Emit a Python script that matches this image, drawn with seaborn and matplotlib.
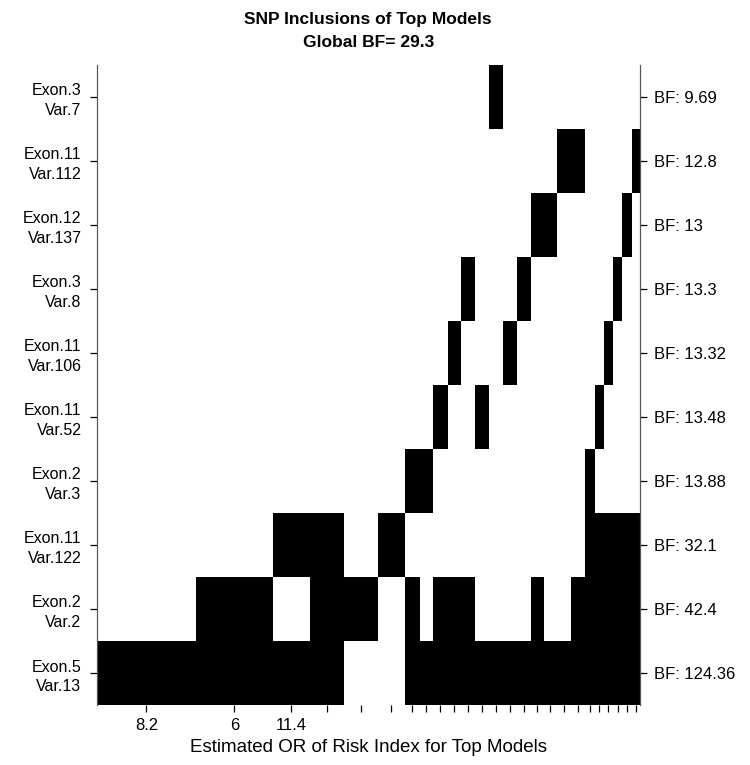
import matplotlib

matplotlib.use("Agg")
import matplotlib.pyplot as plt
import numpy as np
import seaborn as sns
from matplotlib.colors import ListedColormap

# SNPs, top row first
snp_labels = [
    "Exon.3\nVar.7", "Exon.11\nVar.112", "Exon.12\nVar.137", "Exon.3\nVar.8",
    "Exon.11\nVar.106", "Exon.11\nVar.52", "Exon.2\nVar.3", "Exon.11\nVar.122",
    "Exon.2\nVar.2", "Exon.5\nVar.13",
]
bf_labels = [
    "BF: 9.69", "BF: 12.8", "BF: 13", "BF: 13.3", "BF: 13.32",
    "BF: 13.48", "BF: 13.88", "BF: 32.1", "BF: 42.4", "BF: 124.36",
]

# relative width of each model column (posterior weight)
model_widths = [99.3, 77, 37, 34, 33.7, 27.3, 14.7, 13.3, 14.7, 13.6, 14, 13.7, 14,
                14, 14, 13.3, 12.7, 14.7, 13.3, 10, 9, 9, 9.7, 9.6, 7.7]
or_labels = ["8.2", "6", "11.4"] + [""] * 22

# inclusion of each SNP in the 25 top models
inc_var7 = [0, 0, 0, 0, 0, 0, 0, 0, 0, 0, 0, 0, 1, 0, 0, 0, 0, 0, 0, 0, 0, 0, 0, 0, 0]
inc_var112 = [0, 0, 0, 0, 0, 0, 0, 0, 0, 0, 0, 0, 0, 0, 0, 0, 0, 1, 1, 0, 0, 0, 0, 0, 1]
inc_var137 = [0, 0, 0, 0, 0, 0, 0, 0, 0, 0, 0, 0, 0, 0, 0, 1, 1, 0, 0, 0, 0, 0, 0, 1, 0]
inc_var8 = [0, 0, 0, 0, 0, 0, 0, 0, 0, 0, 1, 0, 0, 0, 1, 0, 0, 0, 0, 0, 0, 0, 1, 0, 0]
inc_var106 = [0, 0, 0, 0, 0, 0, 0, 0, 0, 1, 0, 0, 0, 1, 0, 0, 0, 0, 0, 0, 0, 1, 0, 0, 0]
inc_var52 = [0, 0, 0, 0, 0, 0, 0, 0, 1, 0, 0, 1, 0, 0, 0, 0, 0, 0, 0, 0, 1, 0, 0, 0, 0]
inc_var3 = [0, 0, 0, 0, 0, 0, 1, 1, 0, 0, 0, 0, 0, 0, 0, 0, 0, 0, 0, 1, 0, 0, 0, 0, 0]
inc_var122 = [0, 0, 1, 1, 0, 1, 0, 0, 0, 0, 0, 0, 0, 0, 0, 0, 0, 0, 0, 1, 1, 1, 1, 1, 1]
inc_var2 = [0, 1, 0, 1, 1, 0, 1, 0, 1, 1, 1, 0, 0, 0, 0, 1, 0, 0, 1, 1, 1, 1, 1, 1, 1]
inc_var13 = [1, 1, 1, 1, 0, 0, 1, 1, 1, 1, 1, 1, 1, 1, 1, 1, 1, 1, 1, 1, 1, 1, 1, 1, 1]


def main():
    sns.set_theme(style="ticks")
    plt.rcParams["font.family"] = ["Liberation Sans", "DejaVu Sans"]
    for key in ("text.color", "axes.labelcolor", "xtick.color", "ytick.color"):
        plt.rcParams[key] = "black"

    matrix = np.array([inc_var7, inc_var112, inc_var137, inc_var8, inc_var106,
                       inc_var52, inc_var3, inc_var122, inc_var2, inc_var13])
    x_edges = np.concatenate([[0], np.cumsum(model_widths)])
    x_centers = (x_edges[:-1] + x_edges[1:]) / 2
    y_edges = np.arange(len(snp_labels) + 1)
    y_centers = y_edges[:-1] + 0.5

    fig = plt.figure(figsize=(7.5, 7.65), dpi=100)
    ax = fig.add_axes([0.129, 0.0784, 0.724, 0.837])
    ax.pcolormesh(x_edges, y_edges, matrix, cmap=ListedColormap(["white", "black"]),
                  vmin=0, vmax=1)
    ax.set_xlim(x_edges[0], x_edges[-1])
    ax.set_ylim(len(snp_labels), 0)

    ax.set_xticks(x_centers)
    ax.set_xticklabels(or_labels, fontsize=12)
    ax.set_yticks(y_centers)
    ax.set_yticklabels(snp_labels, fontsize=11.5, linespacing=1.4, ha="right")
    ax.tick_params(axis="both", direction="out", length=5, width=0.9, pad=6)
    ax.tick_params(axis="x", pad=4)
    ax.set_xlabel("Estimated OR of Risk Index for Top Models", fontsize=13.5, labelpad=5)

    ax2 = ax.twinx()
    ax2.set_ylim(ax.get_ylim())
    ax2.set_yticks(y_centers)
    ax2.set_yticklabels(bf_labels, fontsize=12)
    ax2.tick_params(axis="y", direction="out", length=5, width=0.9, pad=5)

    for a in (ax, ax2):
        sns.despine(ax=a, top=True, bottom=True, left=False, right=False)
        for side in ("left", "right"):
            a.spines[side].set_color("#555555")
            a.spines[side].set_linewidth(0.8)

    fig.text(0.491, 0.975, "SNP Inclusions of Top Models", ha="center", va="center",
             fontsize=12.5, fontweight="bold")
    fig.text(0.491, 0.944, "Global BF= 29.3", ha="center", va="center",
             fontsize=12.5, fontweight="bold")

    fig.savefig("out.png", dpi=100)
    plt.close(fig)


if __name__ == "__main__":
    main()
